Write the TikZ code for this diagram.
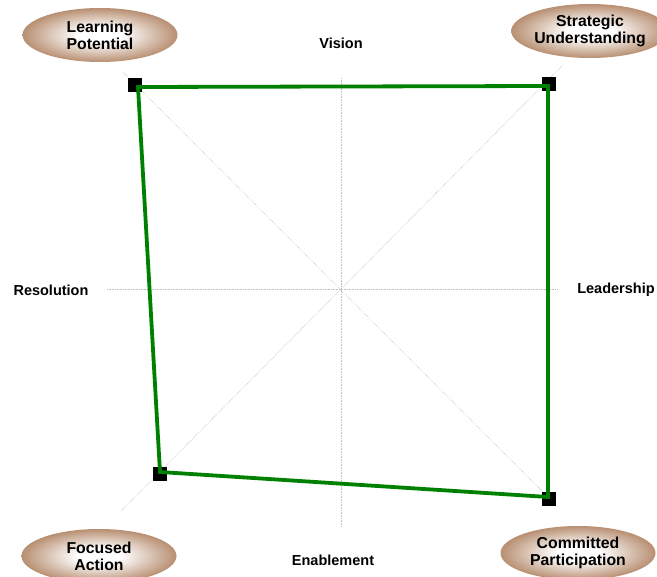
\documentclass[tikz,border=0pt]{standalone}
\usepackage{fontspec}
\setmainfont{Liberation Sans}
\usetikzlibrary{shapes.geometric}
\definecolor{bubbletan}{RGB}{184,143,114}
\definecolor{chartgreen}{RGB}{0,128,0}
\pgfdeclareradialshading{tanglow}{\pgfpoint{0bp}{0bp}}{color(0bp)=(white); color(7bp)=(white); color(25bp)=(bubbletan); color(50bp)=(bubbletan)}
\tikzset{
	axislabel/.style={font=\fontsize{14.5}{17}\selectfont\bfseries},
	bubble/.style={ellipse,shading=tanglow,minimum width=155pt,minimum height=54pt,inner sep=0pt,align=center,font=\fontsize{15.8}{17}\selectfont\bfseries},
	gridline/.style={gray!50,densely dotted,line width=0.6pt},
	marker/.style={rectangle,fill=black,minimum size=14pt,inner sep=0pt},
	scoreline/.style={chartgreen,line width=3.8pt,line join=miter},
}
\begin{document}
\begin{tikzpicture}[x=1pt,y=-1pt]
			\useasboundingbox (0,0) rectangle (657,577);
			% Axes
			\coordinate (top) at (341,78);
			\coordinate (bottom) at (341,527);
			\coordinate (left) at (107,289);
			\coordinate (right) at (558,289);
			\coordinate (ul) at (123,72);
			\coordinate (ur) at (563,65);
			\coordinate (ll) at (121,511);
			\coordinate (lr) at (548,497);
			\draw[gridline] (top) -- (bottom);
			\draw[gridline] (left) -- (right);
			\draw[gridline] (ul) -- (lr);
			\draw[gridline] (ur) -- (ll);
			% Axis labels
			\node[axislabel] (vision) at (341,43) {Vision};
			\node[axislabel] (enablement) at (333,560) {Enablement};
			\node[axislabel] (resolution) at (51,290) {Resolution};
			\node[axislabel] (leadership) at (616,290) {Leadership};
			% Corner bubbles
			\node[bubble] (learning) at (100,35) {Learning\\Potential};
			\node[bubble] (strategic) at (590,31) {Strategic\\Understanding};
			\node[bubble] (focused) at (99,556) {Focused\\Action};
			\node[bubble] (committed) at (578,553) {Committed\\Participation};
			% Scores
			\coordinate (lp) at (138,87);
			\coordinate (su) at (548,86);
			\coordinate (cp) at (548,497);
			\coordinate (fa) at (160,472);
			\node[marker] (lpm) at (135,85) {};
			\node[marker] (sum) at (549,84) {};
			\node[marker] (cpm) at (549,499) {};
			\node[marker] (fam) at (160,474) {};
			\draw[scoreline] (lp) -- (su) -- (cp) -- (fa) -- cycle;
		\end{tikzpicture}
\end{document}
